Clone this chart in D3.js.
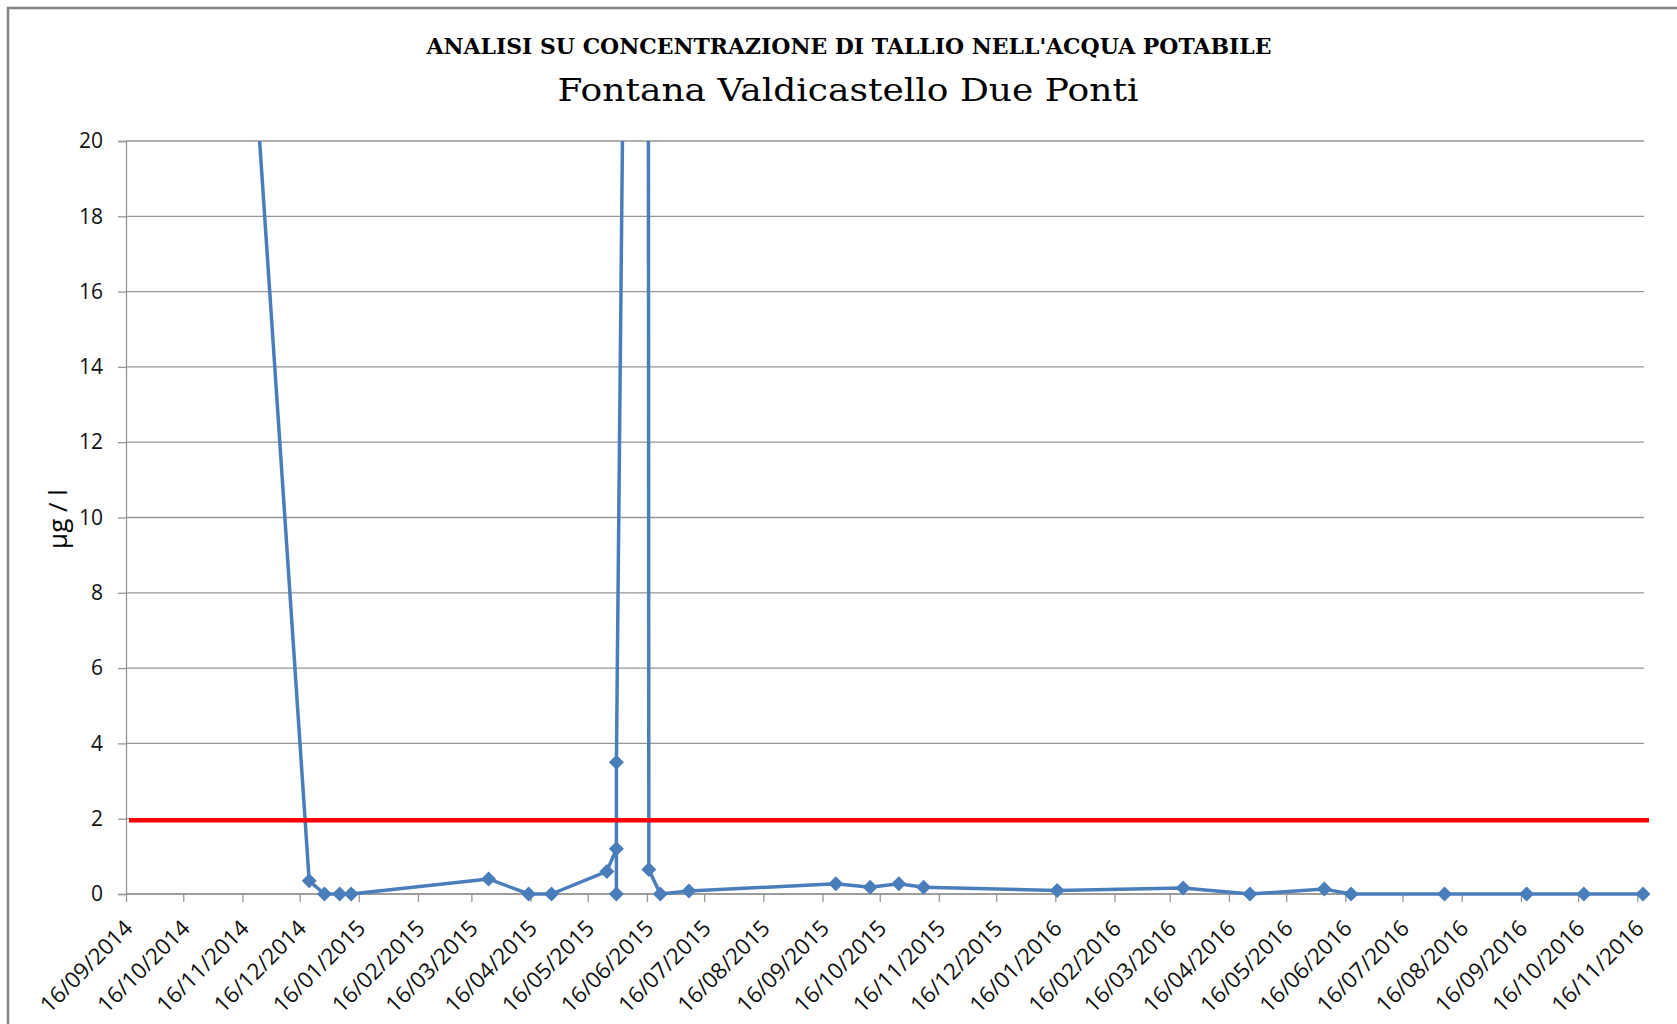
<!DOCTYPE html>
<html>
<head>
<meta charset="utf-8">
<script src="https://cdn.jsdelivr.net/npm/d3@7"></script>
<style>
  html, body { margin: 0; padding: 0; background: #fff; }
  svg { display: block; }
</style>
</head>
<body>
<svg id="chart" width="1677" height="1024"></svg>
<script>
// ---- data ----
const titleText = "ANALISI SU CONCENTRAZIONE DI TALLIO NELL'ACQUA POTABILE";
const subtitleText = "Fontana Valdicastello Due Ponti";
const yLabel = "µg / l";

const sampleDates = ["16/09/2014","21/12/2014","29/12/2014","06/01/2015","12/01/2015","25/03/2015","15/04/2015","27/04/2015","26/05/2015","31/05/2015","31/05/2015","31/05/2015","16/06/2015","17/06/2015","23/06/2015","08/07/2015","23/09/2015","11/10/2015","26/10/2015","08/11/2015","17/01/2016","23/03/2016","27/04/2016","05/06/2016","19/06/2016","07/08/2016","19/09/2016","19/10/2016","19/11/2016"];
const thalliumValues = [73, 0.35, 0, 0, 0, 0.4, 0, 0, 0.6, 1.2, 0, 3.5, 87, 0.65, 0, 0.08, 0.27, 0.18, 0.27, 0.18, 0.09, 0.16, 0, 0.13, 0, 0, 0, 0, 0];

const limitValue = 2;

const xTickLabels = ["16/09/2014","16/10/2014","16/11/2014","16/12/2014","16/01/2015","16/02/2015","16/03/2015","16/04/2015","16/05/2015","16/06/2015","16/07/2015","16/08/2015","16/09/2015","16/10/2015","16/11/2015","16/12/2015","16/01/2016","16/02/2016","16/03/2016","16/04/2016","16/05/2016","16/06/2016","16/07/2016","16/08/2016","16/09/2016","16/10/2016","16/11/2016"];
const yTickValues = [0, 2, 4, 6, 8, 10, 12, 14, 16, 18, 20];
const yDomain = [0, 20];
const xDomainLabels = ["16/09/2014", "19/11/2016"];

// ---- layout ----
const parse = d3.timeParse("%d/%m/%Y");
const plot = { left: 126, right: 1643, top: 141, bottom: 894 };

const svg = d3.select("#chart");

// outer border
svg.append("rect").attr("x", 8).attr("y", 8).attr("width", 1800).attr("height", 1200)
  .attr("fill", "#fff").attr("stroke", "#858585").attr("stroke-width", 2.5);

const x = d3.scaleTime()
  .domain(xDomainLabels.map(parse))
  .range([plot.left, plot.right]);
const y = d3.scaleLinear().domain(yDomain).range([plot.bottom, plot.top]);

const gridColor = "#969696";

// gridlines
svg.append("g").selectAll("line").data(yTickValues).join("line")
  .attr("x1", plot.left).attr("x2", plot.right + 1)
  .attr("y1", d => y(d)).attr("y2", d => y(d))
  .attr("stroke", gridColor).attr("stroke-width", 1.3);

// y axis
const yAxis = svg.append("g").attr("transform", `translate(${plot.left},0)`)
  .call(d3.axisLeft(y).tickValues(yTickValues).tickSize(8).tickPadding(15).tickFormat(d3.format("d")));
yAxis.select(".domain").attr("stroke", gridColor).attr("stroke-width", 1.3);
yAxis.selectAll(".tick line").attr("stroke", gridColor).attr("stroke-width", 1.3);
yAxis.selectAll("text").attr("font-family", "'Open Sans', sans-serif").attr("font-size", 21).attr("fill", "#111");

// x axis
const xTickDates = xTickLabels.map(parse);
const xAxis = svg.append("g").attr("transform", `translate(0,${plot.bottom})`)
  .call(d3.axisBottom(x).tickValues(xTickDates).tickSize(8).tickFormat(d3.timeFormat("%d/%m/%Y")));
xAxis.select(".domain").attr("stroke", gridColor).attr("stroke-width", 1.3).attr("d", `M${plot.left},0H${plot.right + 1}`);
xAxis.selectAll(".tick line").attr("stroke", gridColor).attr("stroke-width", 1.3);
xAxis.selectAll("text")
  .attr("font-family", "'Open Sans', sans-serif").attr("font-size", 22.5).attr("fill", "#111")
  .attr("text-anchor", "end")
  .attr("x", 0).attr("y", 0).attr("dy", "0.35em")
  .attr("transform", "translate(2,30) rotate(-45)");

// clip
svg.append("clipPath").attr("id", "plotclip").append("rect")
  .attr("x", plot.left).attr("y", plot.top)
  .attr("width", plot.right - plot.left + 2).attr("height", plot.bottom - plot.top + 8);

const data = sampleDates.map((d, i) => ({ date: parse(d), value: thalliumValues[i] }));

const line = d3.line().x(d => x(d.date)).y(d => y(d.value));
svg.append("path").datum(data)
  .attr("clip-path", "url(#plotclip)")
  .attr("fill", "none").attr("stroke", "#4a7ebb").attr("stroke-width", 3.5)
  .attr("stroke-linejoin", "round")
  .attr("d", line);

// markers
const r = 7.5;
svg.append("g").selectAll("path").data(data.filter(d => d.value <= yDomain[1])).join("path")
  .attr("d", d => {
    const cx = x(d.date), cy = y(d.value);
    return `M${cx},${cy - r}L${cx + r},${cy}L${cx},${cy + r}L${cx - r},${cy}Z`;
  })
  .attr("fill", "#4a7ebb");

// limit line
svg.append("line")
  .attr("x1", plot.left + 3).attr("x2", plot.right + 6)
  .attr("y1", y(limitValue) + 1.5).attr("y2", y(limitValue) + 1.5)
  .attr("stroke", "#ff0000").attr("stroke-width", 4.5);

// titles
svg.append("text").attr("x", 849).attr("y", 54).attr("text-anchor", "middle")
  .attr("font-family", "'DejaVu Serif', serif").attr("font-weight", "bold").attr("font-size", 23)
  .attr("textLength", 845).attr("lengthAdjust", "spacingAndGlyphs")
  .attr("fill", "#000").text(titleText);
svg.append("text").attr("x", 848).attr("y", 101).attr("text-anchor", "middle")
  .attr("font-family", "'DejaVu Serif', serif").attr("font-size", 32)
  .attr("textLength", 581).attr("lengthAdjust", "spacingAndGlyphs")
  .attr("fill", "#000").text(subtitleText);

// y label
svg.append("text").attr("transform", "translate(67,519) rotate(-90)").attr("text-anchor", "middle")
  .attr("font-family", "'Open Sans', sans-serif").attr("font-size", 26).attr("fill", "#000")
  .text(yLabel);
</script>
</body>
</html>
